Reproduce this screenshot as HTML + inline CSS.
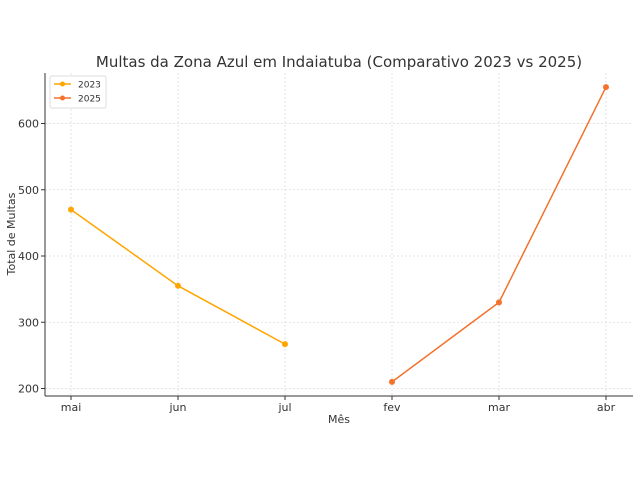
<!DOCTYPE html>
<html><head><meta charset="utf-8"><style>
body{margin:0;background:#fff;}
svg{display:block;font-family:"DejaVu Sans","Liberation Sans",sans-serif;}
</style></head><body>
<svg width="640" height="480">
<g id="grid"></g>
<g id="axes"></g>
<g id="series"></g>
<text x="339" y="67" text-anchor="middle" font-size="15" fill="#333">Multas da Zona Azul em Indaiatuba (Comparativo 2023 vs 2025)</text>
<text x="339" y="423" text-anchor="middle" font-size="11" fill="#333">Mês</text>
<text transform="translate(15,234) rotate(-90)" text-anchor="middle" font-size="11" fill="#333">Total de Multas</text>
<g>
<rect x="50" y="76" width="56" height="32" rx="2" fill="#fff" stroke="#ddd"/>
<g><line x1="54" y1="84" x2="71" y2="84" stroke="#FFA500" stroke-width="1.5"/><circle cx="62.5" cy="84" r="2.5" fill="#FFA500"/><text x="78" y="87.5" font-size="9" fill="#333">2023</text></g>
<g><line x1="54" y1="98" x2="71" y2="98" stroke="#F4722B" stroke-width="1.5"/><circle cx="62.5" cy="98" r="2.5" fill="#F4722B"/><text x="78" y="101.5" font-size="9" fill="#333">2025</text></g>
</g>
</svg>
<script>
const categories=["mai","jun","jul","fev","mar","abr"];
const yTicks=[200,300,400,500,600];
const s2023Cats=["mai","jun","jul"];
const s2023=[470,355,267];
const s2025Cats=["fev","mar","abr"];
const s2025=[210,330,655];
const NS="http://www.w3.org/2000/svg";
const X0=71,DX=107,L=45,R=633,T=73,B=396;
function xs(c){return X0+categories.indexOf(c)*DX;}
function ys(v){return 388.5-(v-200)*0.6625;}
function mk(tag,attrs,parent){const e=document.createElementNS(NS,tag);for(const k in attrs)e.setAttribute(k,attrs[k]);parent.appendChild(e);return e;}
const grid=document.getElementById('grid'),axes=document.getElementById('axes'),series=document.getElementById('series');
categories.forEach(c=>{
 const g=mk('line',{x1:xs(c),x2:xs(c),y1:T,y2:B,stroke:'#ddd','stroke-dasharray':'2,2','stroke-width':0.8},grid);
 
 
 mk('line',{x1:xs(c),x2:xs(c),y1:B,y2:B+4,stroke:'#333'},axes);
 const t=mk('text',{x:xs(c),y:B+15,'text-anchor':'middle','font-size':11,fill:'#333'},axes);
 t.textContent=c;
 
 
});
yTicks.forEach(v=>{
 const g=mk('line',{x1:L,x2:R,y1:ys(v),y2:ys(v),stroke:'#ddd','stroke-dasharray':'2,2','stroke-width':0.8},grid);
 
 
 mk('line',{x1:L-4,x2:L,y1:ys(v),y2:ys(v),stroke:'#333'},axes);
 const t=mk('text',{x:L-6,y:ys(v)+4,'text-anchor':'end','font-size':11,fill:'#333'},axes);
 t.textContent=v;
 
 
});
mk('line',{x1:L,x2:L,y1:T,y2:B,stroke:'#333','stroke-width':1},axes);
mk('line',{x1:L,x2:R,y1:B,y2:B,stroke:'#333','stroke-width':1},axes);
function draw(cats,vals,color,name){
 const pts=cats.map((c,i)=>xs(c)+','+ys(vals[i])).join(' ');
 const pl=mk('polyline',{points:pts,fill:'none',stroke:color,'stroke-width':1.5},series);
 
 
 cats.forEach((c,i)=>{
  const p=mk('circle',{cx:xs(c),cy:ys(vals[i]),r:3,fill:color},series);
  
  
 });
}
draw(s2023Cats,s2023,'#FFA500','series-2023');
draw(s2025Cats,s2025,'#F4722B','series-2025');
</script>
</body></html>
